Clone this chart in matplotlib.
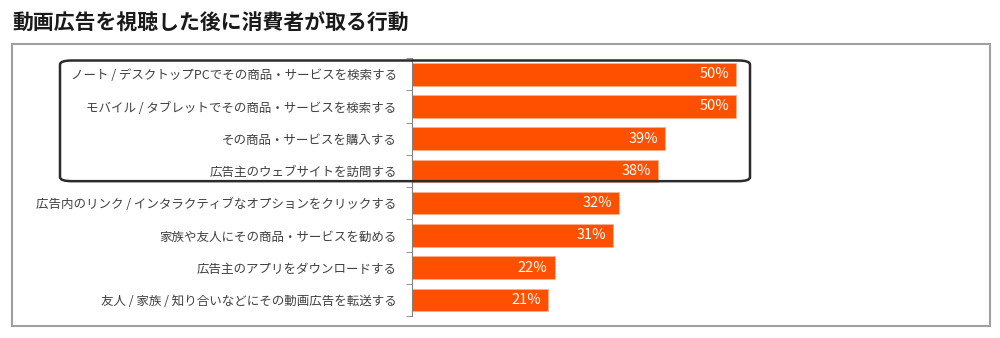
import matplotlib
matplotlib.use('Agg')
import matplotlib.pyplot as plt
import numpy as np
from matplotlib.patches import Rectangle, FancyBboxPatch

plt.rcParams['font.family'] = ['Noto Sans CJK JP', 'DejaVu Sans']

labels = [
    'ノート / デスクトップPCでその商品・サービスを検索する',
    'モバイル / タブレットでその商品・サービスを検索する',
    'その商品・サービスを購入する',
    '広告主のウェブサイトを訪問する',
    '広告内のリンク / インタラクティブなオプションをクリックする',
    '家族や友人にその商品・サービスを勧める',
    '広告主のアプリをダウンロードする',
    '友人 / 家族 / 知り合いなどにその動画広告を転送する',
]
values = [50, 50, 39, 38, 32, 31, 22, 21]
title = '動画広告を視聴した後に消費者が取る行動'


def main():
    fig = plt.figure(figsize=(10, 3.38), dpi=100)
    ax = fig.add_axes([0.412, 0.065, 0.488, 0.763])

    n = len(values)
    y = np.arange(n)
    bars = ax.barh(y, values, height=0.7, color='#FF5000', edgecolor='#FFB08A', linewidth=0.6)
    ax.set_ylim(n - 0.5, -0.5)
    ax.set_xlim(0, 488 / 6.48)

    ax.set_yticks(y)
    ax.set_yticklabels(labels, fontsize=9, color='#404040')
    ax.set_yticks(np.arange(n + 1) - 0.5, minor=True)
    ax.tick_params(axis='y', which='major', length=0, pad=11)
    ax.tick_params(axis='y', which='minor', length=4, color='#808080')
    ax.set_xticks([])
    for s in ['top', 'right', 'bottom']:
        ax.spines[s].set_visible(False)
    ax.spines['left'].set_color('#808080')
    ax.patch.set_alpha(0)

    for b, v in zip(bars, values):
        ax.annotate('{}%'.format(v), xy=(v, b.get_y() + b.get_height() / 2),
                    xytext=(-5, 0), textcoords='offset points',
                    ha='right', va='center', color='white', fontsize=10.5)

    # outer frame
    fig.patches.append(Rectangle((0.012, 0.0355), 0.978, 0.834, transform=fig.transFigure,
                                 fill=False, edgecolor='#A0A0A0', linewidth=1.5, zorder=0))
    # highlight box around top four
    fig.patches.append(FancyBboxPatch((0.066, 0.47), 0.678, 0.345,
                                      boxstyle='round,pad=0.006,rounding_size=0.012',
                                      transform=fig.transFigure, fill=False,
                                      edgecolor='#2B2B2B', linewidth=1.8, zorder=5))

    fig.text(0.012, 0.932, title, fontsize=15, fontweight='bold', color='#1a1a1a',
             ha='left', va='center')

    fig.savefig('out.png', dpi=100, facecolor='white')


if __name__ == '__main__':
    main()
